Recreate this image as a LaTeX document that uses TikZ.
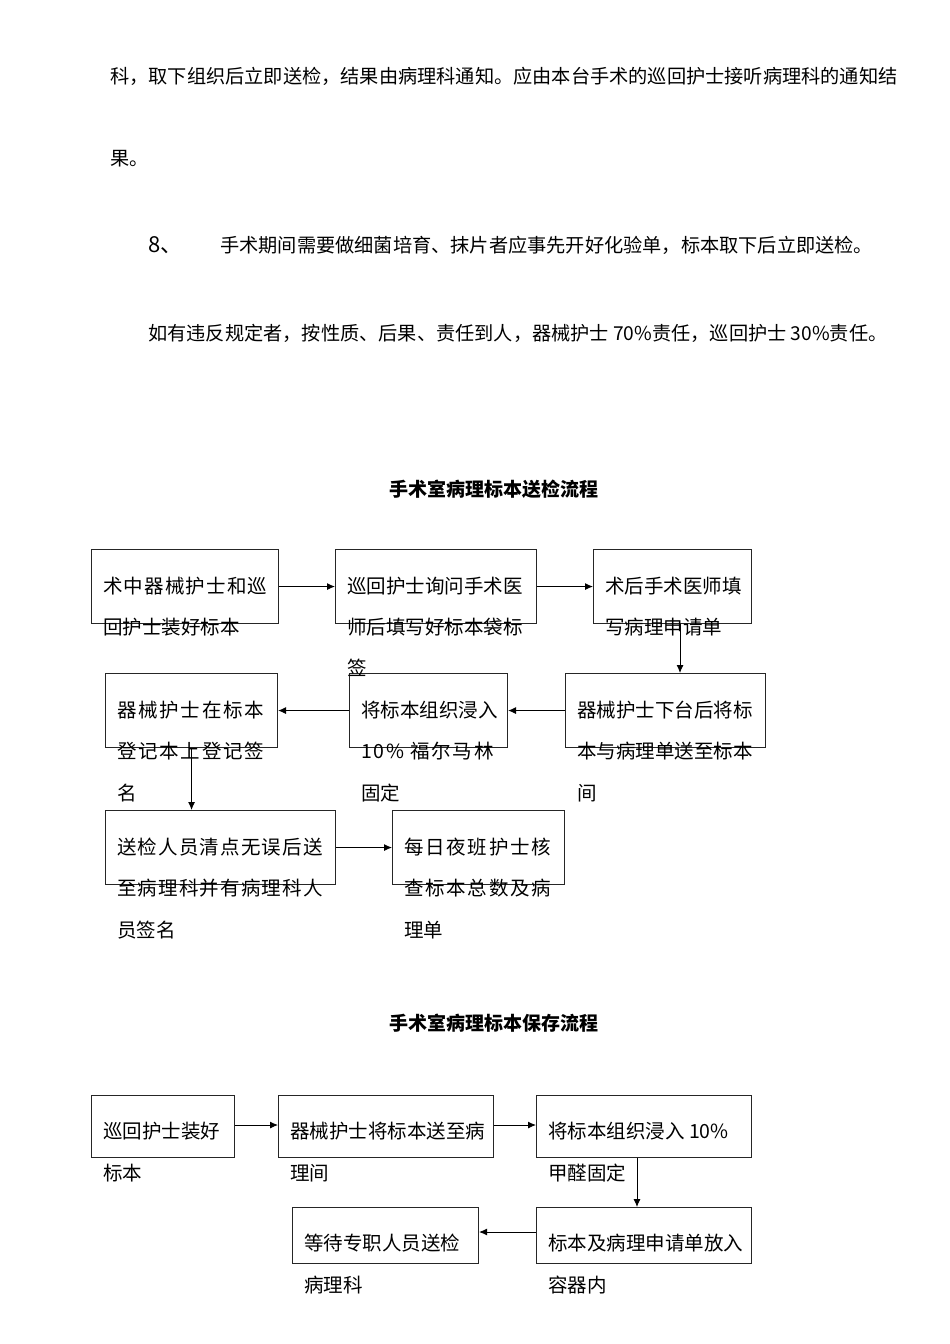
\documentclass[tikz,border=0pt]{standalone}
\usepackage{fontspec}
\setmainfont{Noto Sans CJK SC}
\usetikzlibrary{arrows.meta}
\begin{document}
\begin{tikzpicture}[x=1pt,y=-1pt,
  box/.style={draw=black!85, line width=1.1pt, inner sep=0, anchor=north west},
  txt/.style={anchor=west, inner sep=0, font=\fontsize{19.5}{20}\selectfont},
  wide/.style={font=\fontsize{19.5}{20}\selectfont\addfontfeature{LetterSpace=9}},
  semi/.style={font=\fontsize{19.5}{20}\selectfont\addfontfeature{LetterSpace=6}},
  body/.style={anchor=west, inner sep=0, font=\fontsize{19.2}{20}\selectfont},
  ttl/.style={inner sep=0, font=\fontsize{19}{20}\selectfont\bfseries},
  arr/.style={-{Latex[length=8pt,width=7pt]}, line width=0.9pt}]
\useasboundingbox (0,0) rectangle (950,1344);

% body text
\node[body] (p1) at (110,76) {科，取下组织后立即送检，结果由病理科通知。应由本台手术的巡回护士接听病理科的通知结};
\node[body] (p2) at (110,159) {果。};
\node[body,font=\fontsize{22}{22}\selectfont] (p3a) at (148,245) {8、};
\node[body] (p3b) at (220,245) {手术期间需要做细菌培育、抹片者应事先开好化验单，标本取下后立即送检。};
\node[body] (p4) at (148,333) {如有违反规定者，按性质、后果、责任到人，器械护士 70\%责任，巡回护士 30\%责任。};

% titles
\node[ttl] (t1) at (494,489) {手术室病理标本送检流程};
\node[ttl] (t2) at (494,1023) {手术室病理标本保存流程};

% flow 1 boxes
\node[box, minimum width=187, minimum height=74] (A) at (91,549) {};
\node[box, minimum width=201, minimum height=74] (B) at (335,549) {};
\node[box, minimum width=158, minimum height=74] (C) at (593,549) {};
\node[box, minimum width=172, minimum height=74] (D) at (105,673) {};
\node[box, minimum width=158, minimum height=74] (E) at (349,673) {};
\node[box, minimum width=200, minimum height=74] (F) at (565,673) {};
\node[box, minimum width=230, minimum height=74] (G) at (105,810) {};
\node[box, minimum width=172, minimum height=74] (H) at (392,810) {};

% flow 1 texts
\node[txt,semi] (a1) at (103,586) {术中器械护士和巡};
\node[txt] (a2) at (103,627) {回护士装好标本};
\node[txt] (b1) at (347,586) {巡回护士询问手术医};
\node[txt] (b2) at (347,627) {师后填写好标本袋标};
\node[txt] (b3) at (347,668) {签};
\node[txt] (c1) at (605,586) {术后手术医师填};
\node[txt] (c2) at (605,627) {写病理申请单};
\node[txt,wide] (d1) at (117,710) {器械护士在标本};
\node[txt,wide] (d2) at (117,751) {登记本上登记签};
\node[txt,wide] (d3) at (117,793) {名};
\node[txt] (e1) at (361,710) {将标本组织浸入};
\node[txt,wide] (e2) at (361,751) {10\% 福尔马林};
\node[txt] (e3) at (361,793) {固定};
\node[txt] (f1) at (577,710) {器械护士下台后将标};
\node[txt] (f2) at (577,751) {本与病理单送至标本};
\node[txt] (f3) at (577,793) {间};
\node[txt,semi] (g1) at (117,847) {送检人员清点无误后送};
\node[txt,semi] (g2) at (117,888) {至病理科并有病理科人};
\node[txt] (g3) at (117,930) {员签名};
\node[txt,wide] (h1) at (404,847) {每日夜班护士核};
\node[txt,wide] (h2) at (404,888) {查标本总数及病};
\node[txt] (h3) at (404,930) {理单};

% flow 1 arrows
\draw[arr] (A.east) -- (B.west);
\draw[arr] (B.east) -- (C.west);
\draw[arr] (C.south -| 680,0) -- (F.north -| 680,0);
\draw[arr] (F.west) -- (E.east);
\draw[arr] (E.west) -- (D.east);
\draw[arr] (D.south) -- (D.south |- G.north);
\draw[arr] (G.east) -- (H.west);

% flow 2 boxes
\node[box, minimum width=143, minimum height=62] (I) at (91,1095) {};
\node[box, minimum width=215, minimum height=62] (J) at (278,1095) {};
\node[box, minimum width=215, minimum height=62] (K) at (536,1095) {};
\node[box, minimum width=215, minimum height=56] (L) at (536,1207) {};
\node[box, minimum width=186, minimum height=56] (M) at (292,1207) {};

% flow 2 texts
\node[txt] (i1) at (103,1131) {巡回护士装好};
\node[txt] (i2) at (103,1173) {标本};
\node[txt] (j1) at (290,1131) {器械护士将标本送至病};
\node[txt] (j2) at (290,1173) {理间};
\node[txt] (k1) at (548,1131) {将标本组织浸入 10\%};
\node[txt] (k2) at (548,1173) {甲醛固定};
\node[txt] (l1) at (548,1243) {标本及病理申请单放入};
\node[txt] (l2) at (548,1285) {容器内};
\node[txt] (m1) at (304,1243) {等待专职人员送检};
\node[txt] (m2) at (304,1285) {病理科};

% flow 2 arrows
\draw[arr] (I.east |- 0,1125) -- (J.west |- 0,1125);
\draw[arr] (J.east |- 0,1125) -- (K.west |- 0,1125);
\draw[arr] (K.south -| 637,0) -- (L.north -| 637,0);
\draw[arr] (L.west |- 0,1232) -- (M.east |- 0,1232);
\end{tikzpicture}
\end{document}
